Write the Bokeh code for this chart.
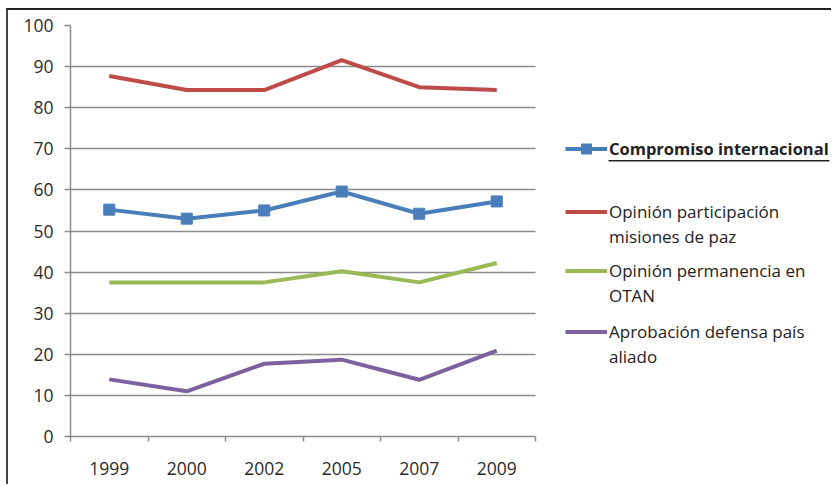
from bokeh.plotting import figure
from bokeh.models import Range1d, FixedTicker, Legend, LegendItem, BoxAnnotation
from bokeh.embed import file_html
from bokeh.resources import INLINE

# ---- data ----
years = ["1999", "2000", "2002", "2005", "2007", "2009"]
compromiso = [55.2, 53.0, 55.0, 59.6, 54.2, 57.2]
participacion = [87.7, 84.3, 84.3, 91.6, 85.0, 84.3]
permanencia = [37.5, 37.5, 37.5, 40.2, 37.5, 42.2]
aprobacion = [13.9, 11.0, 17.7, 18.7, 13.8, 20.9]
y_ticks = list(range(0, 101, 10))

FONT = "Open Sans"
BLUE, RED, GREEN, PURPLE = "#4A7EBB", "#BE4B48", "#98B954", "#7D60A0"
GRID = "#8c8c8c"

n = len(years)
x = [i + 0.5 for i in range(n)]
boundaries = list(range(n + 1))

# frame spans page x 70..833 ; the category area is page x 70..535
FRAME_W = 833 - 70
CAT_W = 535 - 70
x_end = n * FRAME_W / CAT_W

p = figure(width=825, height=476, output_backend="svg", toolbar_location=None,
           x_range=Range1d(0, x_end), y_range=Range1d(0, 100),
           min_border_left=62, min_border_right=0, min_border_top=15, min_border_bottom=50,
           background_fill_color="white", border_fill_color="white", outline_line_color=None)
p.styles = {"border-top": "2px solid #222222", "border-left": "2px solid #444444",
            "margin-left": "6px", "margin-top": "8px"}

# page-pixel helper ranges for the underline decoration
p.extra_x_ranges = {"px": Range1d(70, 833)}
p.extra_y_ranges = {"py": Range1d(436, 25)}

# axes
p.xaxis.ticker = FixedTicker(ticks=x, minor_ticks=boundaries)
p.xaxis.bounds = (0, n)
p.xaxis.major_label_overrides = {xi: yr for xi, yr in zip(x, years)}
p.xaxis.major_tick_line_color = None
p.xaxis.major_tick_out = 0
p.xaxis.major_tick_in = 0
p.xaxis.minor_tick_line_color = GRID
p.xaxis.minor_tick_line_width = 1.5
p.xaxis.minor_tick_out = 5
p.xaxis.minor_tick_in = 0
p.xaxis.major_label_standoff = 20

p.yaxis.ticker = FixedTicker(ticks=y_ticks, minor_ticks=[])
p.yaxis.major_tick_line_color = GRID
p.yaxis.major_tick_line_width = 1.5
p.yaxis.major_tick_out = 6
p.yaxis.major_tick_in = 0
p.yaxis.major_label_standoff = 11

for ax in (p.xaxis[0], p.yaxis[0]):
    ax.axis_line_color = GRID
    ax.axis_line_width = 1.5
    ax.major_label_text_font = FONT
    ax.major_label_text_font_size = "17.5px"
    ax.major_label_text_color = "#2b2b2b"

p.xgrid.visible = False
try:
    p.ygrid.cross_bounds = (0, n)
    p.ygrid.grid_line_color = GRID
    p.ygrid.grid_line_width = 1.5
except AttributeError:
    p.ygrid.visible = False
    p.segment(x0=[0] * len(y_ticks), x1=[n] * len(y_ticks), y0=y_ticks, y1=y_ticks,
              line_color=GRID, line_width=1.5)

# series
r_red = p.line(x, participacion, line_color=RED, line_width=4)
r_green = p.line(x, permanencia, line_color=GREEN, line_width=4)
r_purple = p.line(x, aprobacion, line_color=PURPLE, line_width=4)
r_blue = p.line(x, compromiso, line_color=BLUE, line_width=4)
r_sq = p.scatter(x, compromiso, marker="square", size=11, fill_color=BLUE, line_color=BLUE)
r_blank = p.line([], [], line_alpha=0)


def add_legend(items, vx, vy, bold=False):
    lg = Legend(items=items, location=(vx, vy), orientation="vertical",
                glyph_width=42, glyph_height=25, label_height=25, label_standoff=2,
                spacing=0, padding=0, margin=0, border_line_color=None,
                background_fill_alpha=0, label_text_font=FONT,
                label_text_font_size="16.5px" if bold else "17px",
                label_text_color="#222222",
                label_text_font_style="bold" if bold else "normal")
    p.add_layout(lg, "center")


add_legend([LegendItem(label="Compromiso internacional", renderers=[r_blue, r_sq])], 495, 275.5, bold=True)
add_legend([LegendItem(label="Opinión participación", renderers=[r_red]),
            LegendItem(label="misiones de paz", renderers=[r_blank])], 495, 187.5)
add_legend([LegendItem(label="Opinión permanencia en", renderers=[r_green]),
            LegendItem(label="OTAN", renderers=[r_blank])], 495, 128.5)
add_legend([LegendItem(label="Aprobación defensa país", renderers=[r_purple]),
            LegendItem(label="aliado", renderers=[r_blank])], 495, 67.5)

# underline of the bold legend entry
p.add_layout(BoxAnnotation(left=608, right=829, top=159.5, bottom=161, fill_color="#222222",
                           fill_alpha=1, line_color=None, x_range_name="px", y_range_name="py"))

open("out.html", "w").write(file_html(p, INLINE))
